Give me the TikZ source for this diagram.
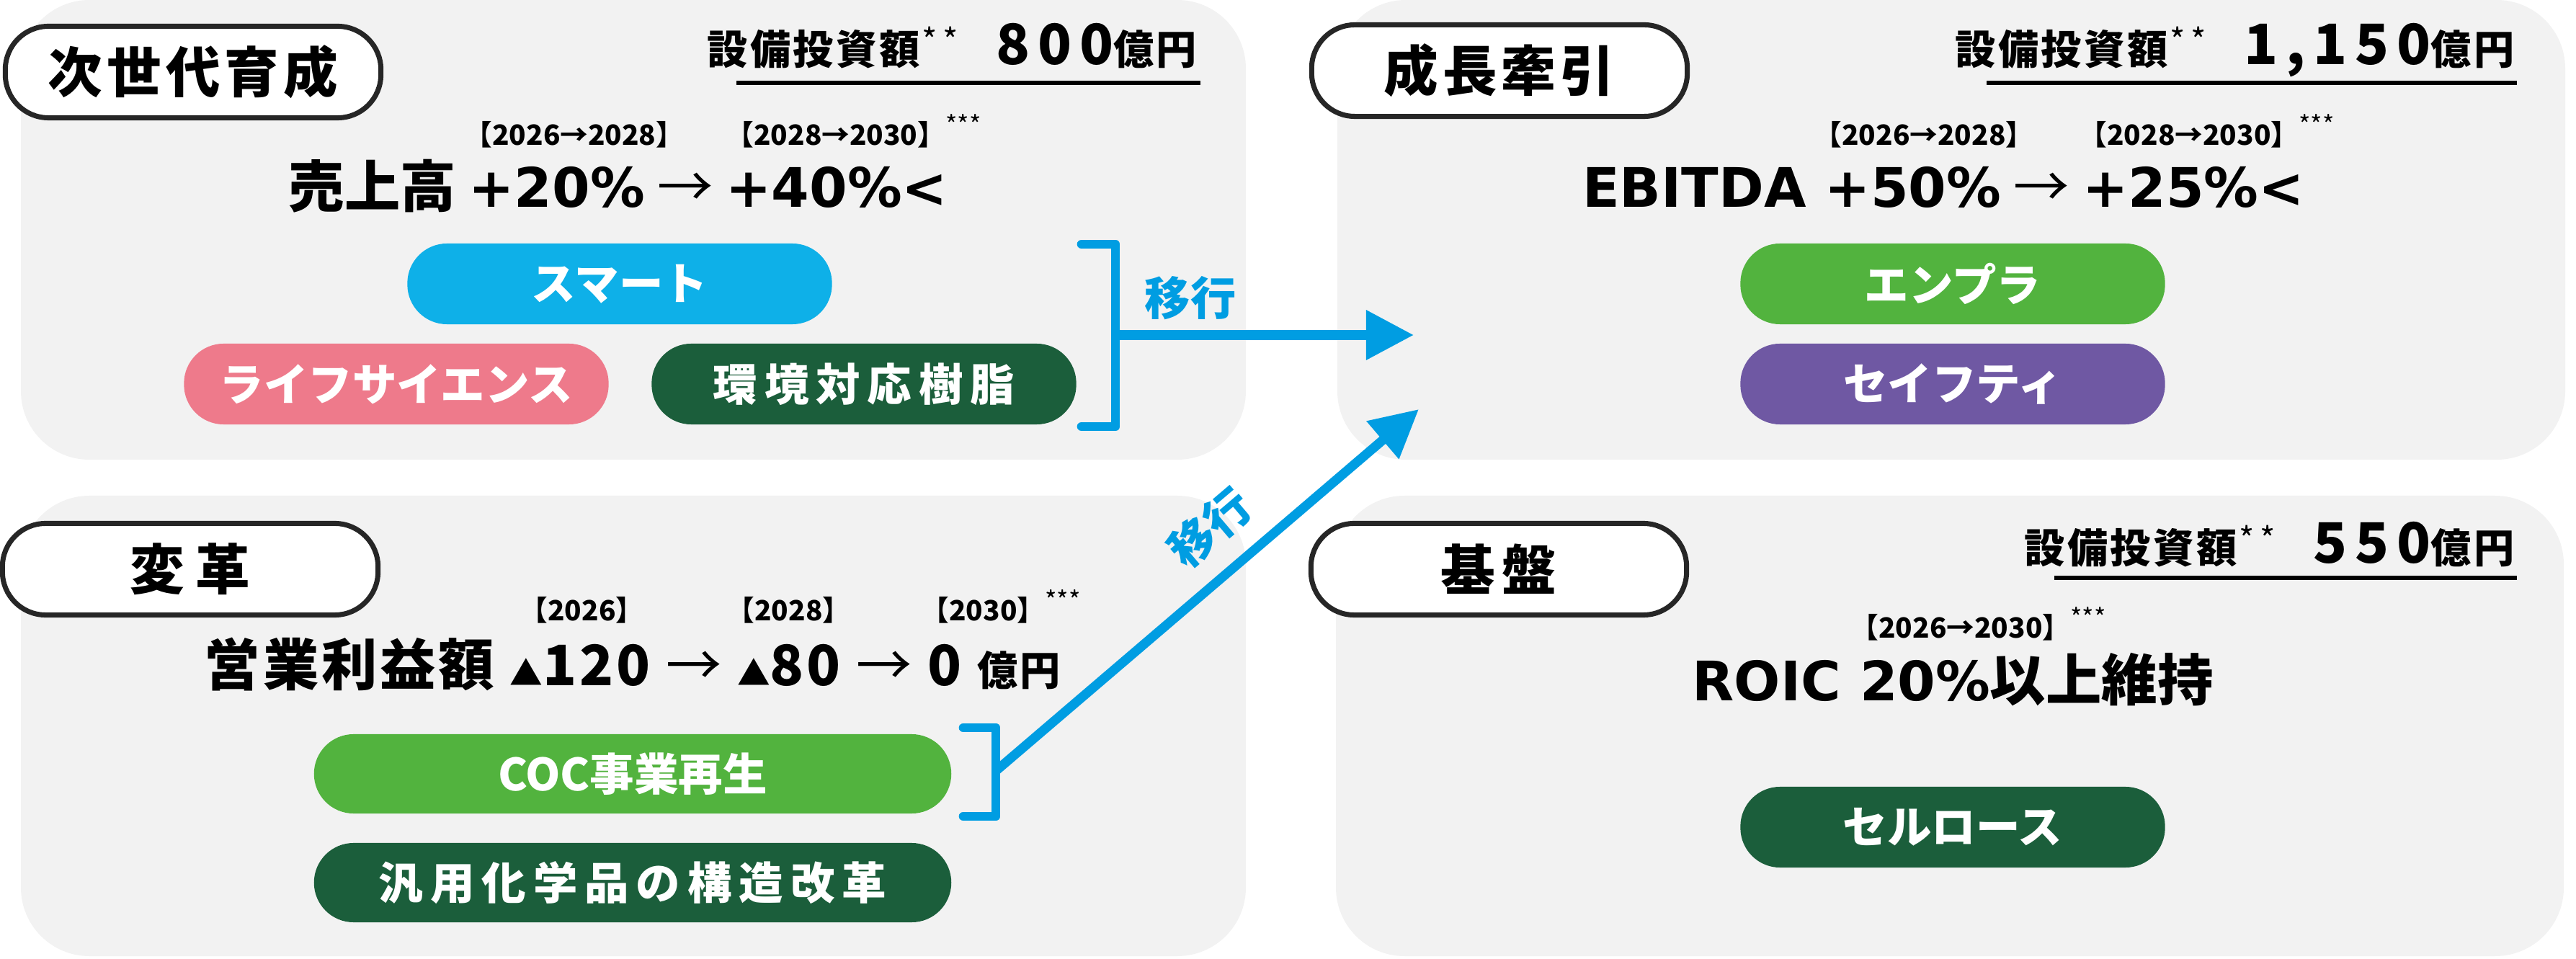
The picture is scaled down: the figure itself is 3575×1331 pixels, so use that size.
\documentclass[tikz,border=0pt]{standalone}
\usepackage{fontspec}
\setmainfont{Noto Sans CJK JP}
\newfontfamily\latfont{DejaVu Sans}
\usetikzlibrary{arrows.meta}
\definecolor{panelgray}{HTML}{F2F2F2}
\definecolor{tagborder}{HTML}{262626}
\definecolor{smartblue}{HTML}{0EB0E8}
\definecolor{lifepink}{HTML}{EE7A8B}
\definecolor{darkgreen}{HTML}{1B5E3B}
\definecolor{leafgreen}{HTML}{52B33E}
\definecolor{safepurple}{HTML}{6F58A3}
\definecolor{moveblue}{HTML}{009DE2}
\newcommand{\tagfs}{\fontsize{21.5pt}{24pt}\selectfont\bfseries\addfontfeature{LetterSpace=8}}
\newcommand{\capfs}{\fontsize{16pt}{18pt}\selectfont\bfseries\addfontfeature{LetterSpace=6}}
\newcommand{\numfs}{\fontsize{22pt}{24pt}\selectfont\bfseries\addfontfeature{LetterSpace=14}}
\newcommand{\yrfs}{\fontsize{11pt}{12pt}\selectfont\bfseries}
\newcommand{\mainfs}{\fontsize{22pt}{24pt}\selectfont\bfseries}
\newcommand{\lat}{\latfont\bfseries\fontsize{21.5pt}{24pt}\selectfont}
\newcommand{\pillfs}{\fontsize{17.5pt}{20pt}\selectfont\bfseries}
\newcommand{\widefs}{\addfontfeature{LetterSpace=16}}
\newcommand{\stars}{\raisebox{0.4em}{\fontsize{10pt}{10pt}\selectfont\mdseries ***}}
\newcommand{\capstars}{\hspace{1pt}\raisebox{0.3em}{\fontsize{13pt}{13pt}\selectfont\mdseries *\hspace{2pt}*}\hspace{15pt}}
\newcommand{\tri}{{\fontsize{13pt}{13pt}\selectfont ▲}}
\newcommand{\thin}{\mdseries →}

\begin{document}
\begin{tikzpicture}[x=0.01cm,y=-0.01cm,
    panel/.style={fill=panelgray,rounded corners=0.95cm},
    tag/.style={draw=tagborder,line width=2pt,fill=white,rounded corners=0.6cm,
      minimum width=5.21cm,minimum height=1.27cm,inner sep=0pt,font=\tagfs},
    pill/.style={rounded corners=0.55cm,minimum width=5.89cm,minimum height=1.12cm,
      inner sep=0pt,text=white,font=\pillfs},
    widepill/.style={pill,minimum width=8.84cm,minimum height=1.10cm},
    yr/.style={anchor=base west,inner sep=0pt,font=\yrfs},
    goal/.style={anchor=base,inner sep=0pt,font=\mainfs},
    capex/.style={anchor=base east,inner sep=0pt},
    rule/.style={line width=1.7pt},
    brk/.style={draw=moveblue,line width=3.6pt,line cap=round,line join=round},
    mv/.style={draw=moveblue,line width=3.7pt,-{Triangle[length=0.66cm,width=0.66cm]}},
    mvtext/.style={text=moveblue,font=\fontsize{18pt}{20pt}\selectfont\bfseries,inner sep=0pt}]
\useasboundingbox (0,0) rectangle (3575,1331);

% panels
\fill[panel] (29,0) rectangle (1729,638);
\fill[panel] (1856,0) rectangle (3560,638);
\fill[panel] (29,688) rectangle (1729,1327);
\fill[panel] (1854,688) rectangle (3558,1327);

% tags
\node[tag] (tagNext) at (268,100) {次世代育成};
\node[tag] (tagGrow) at (2081,98) {成長牽引};
\node[tag] (tagReform) at (264,790) {変\hspace{0.2em}革};
\node[tag] (tagBase) at (2080,790) {基\hspace{0.12em}盤};

% capex
\node[capex] (capNext) at (1662,90) {\capfs 設備投資額\capstars{\numfs 800}\capfs 億円};
\draw[rule] (1022,115) -- (1666,115);
\node[capex] (capGrow) at (3490,90) {\capfs 設備投資額\capstars{\numfs 1,150}\capfs 億円};
\draw[rule] (2757,115) -- (3493,115);
\node[capex] (capBase) at (3490,782) {\capfs 設備投資額\capstars{\numfs 550}\capfs 億円};
\draw[rule] (2851,802) -- (3493,802);

% years and goals
\node[yr] (yrNextA) at (644,202) {【2026→2028】};
\node[yr] (yrNextB) at (1007,202) {【2028→2030】\stars};
\node[goal] (goalNext) at (858,288) {売上高 {\lat +20\%} {\thin} {\lat +40\%<}};

\node[yr] (yrGrowA) at (2517,202) {【2026→2028】};
\node[yr] (yrGrowB) at (2885,202) {【2028→2030】\stars};
\node[goal] (goalGrow) at (2697,288) {{\lat EBITDA +50\%} {\thin} {\lat +25\%<}};

\node[yr] (yrRefA) at (721,862) {【2026】};
\node[yr] (yrRefB) at (1008,862) {【2028】};
\node[yr] (yrRefC) at (1278,862) {【2030】\stars};
\node[goal] (goalReform) at (878,951) {\addfontfeature{LetterSpace=5}営業利益額 \tri120 {\thin} \tri80 {\thin} 0 {\capfs 億円}};

\node[yr] (yrBase) at (2568,886) {【2026→2030】\stars};
\node[goal] (goalBase) at (2710,972) {{\lat ROIC 20\%}以上維持};

% business pills
\node[pill,fill=smartblue] (pSmart) at (860,394) {スマート};
\node[pill,fill=lifepink] (pLife) at (550,533) {ライフサイエンス};
\node[pill,fill=darkgreen] (pEnv) at (1199,533) {\widefs 環境対応樹脂};
\node[pill,fill=leafgreen] (pEnpla) at (2710,394) {エンプラ};
\node[pill,fill=safepurple] (pSafety) at (2710,533) {セイフティ};
\node[widepill,fill=leafgreen] (pCoc) at (878,1074) {COC事業再生};
\node[widepill,fill=darkgreen] (pChem) at (878,1225) {\widefs 汎用化学品の構造改革};
\node[pill,fill=darkgreen] (pCell) at (2710,1148) {セルロース};

% brackets and moves
\coordinate (jNext) at (1548,465);
\coordinate (tipNext) at (1962,465);
\coordinate (jRef) at (1382,1070);
\coordinate (tipRef) at (1969,568);
\draw[brk] (1501,339) -- (1548,339) -- (1548,592) -- (1501,592);
\draw[brk] (1337,1010) -- (1382,1010) -- (1382,1133) -- (1337,1133);
\draw[mv] (jNext) -- (tipNext);
\draw[mv] (jRef) -- (tipRef);
\node[mvtext] (mvNext) at (1652,414) {移行};
\node[mvtext,rotate=40.4] (mvRef) at (1679,732) {移行};
\end{tikzpicture}
\end{document}
